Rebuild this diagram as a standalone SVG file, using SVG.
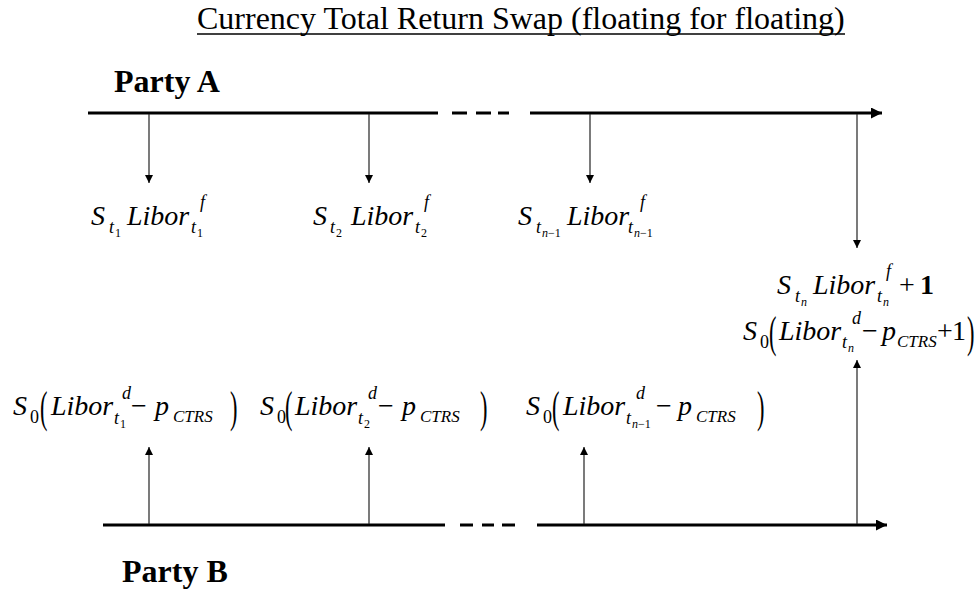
<svg xmlns="http://www.w3.org/2000/svg" width="978" height="594" viewBox="0 0 978 594">
<style>
text { font-family: "Liberation Serif", "Times New Roman", serif; fill: #000; }
.title { font-size: 32px; }
.party { font-size: 32px; font-weight: bold; }
.m { font-size: 28px; font-style: italic; }
.mu { font-size: 28px; font-style: normal; }
.s { font-size: 18px; font-style: italic; }
.su { font-size: 18px; font-style: normal; }
.c { font-size: 17px; font-style: italic; }
.ss { font-size: 12px; font-style: italic; }
.ssu { font-size: 12px; font-style: normal; }
.tl { stroke: #000; stroke-width: 3; fill: none; }
.ar { stroke: #222; stroke-width: 1.2; fill: none; }
</style>
<defs>
<marker id="ah" viewBox="0 0 10 10" refX="10" refY="5" markerWidth="9" markerHeight="8" markerUnits="userSpaceOnUse" orient="auto">
<path d="M0,0 L10,5 L0,10 z" fill="#000"/>
</marker>
<marker id="big" viewBox="0 0 10 10" refX="10" refY="5" markerWidth="13" markerHeight="11" markerUnits="userSpaceOnUse" orient="auto">
<path d="M0,0 L10,5 L0,10 z" fill="#000"/>
</marker>
</defs>

<g id="title">
<text class="title" x="197" y="29">Currency Total Return Swap (floating for floating)</text>
<line x1="197" y1="34" x2="845" y2="34" stroke="#000" stroke-width="1.5"/>
</g>

<g id="partyA"><text class="party" x="114" y="92">Party A</text></g>
<g id="partyB"><text class="party" x="122" y="582">Party B</text></g>

<g id="timelineA">
<line class="tl" x1="88" y1="113" x2="438" y2="113"/>
<line class="tl" x1="452" y1="113" x2="467" y2="113"/>
<line class="tl" x1="476" y1="113" x2="491" y2="113"/>
<line class="tl" x1="498" y1="113" x2="509" y2="113"/>
<line class="tl" x1="530" y1="113" x2="882" y2="113" marker-end="url(#big)"/>
</g>

<g id="timelineB">
<line class="tl" x1="103" y1="525" x2="445" y2="525"/>
<line class="tl" x1="460" y1="525" x2="473" y2="525"/>
<line class="tl" x1="482" y1="525" x2="494" y2="525"/>
<line class="tl" x1="502" y1="525" x2="515" y2="525"/>
<line class="tl" x1="537" y1="525" x2="887" y2="525" marker-end="url(#big)"/>
</g>

<g id="connectors">
<line class="ar" x1="149" y1="114" x2="149" y2="183" marker-end="url(#ah)"/>
<line class="ar" x1="369" y1="114" x2="369" y2="183" marker-end="url(#ah)"/>
<line class="ar" x1="590" y1="114" x2="590" y2="183" marker-end="url(#ah)"/>
<line class="ar" x1="857" y1="114" x2="857" y2="248" marker-end="url(#ah)"/>
<line class="ar" x1="149" y1="524" x2="149" y2="447" marker-end="url(#ah)"/>
<line class="ar" x1="369" y1="524" x2="369" y2="447" marker-end="url(#ah)"/>
<line class="ar" x1="584" y1="524" x2="584" y2="447" marker-end="url(#ah)"/>
<line class="ar" x1="857" y1="524" x2="857" y2="360" marker-end="url(#ah)"/>
</g>

<g id="payA1">
<text class="m" x="91" y="225">S</text>
<text class="s" x="109" y="233">t</text>
<text class="ssu" x="115" y="237">1</text>
<text class="m" x="127" y="225">Libor</text>
<text class="s" x="200" y="208">f</text>
<text class="s" x="191" y="233">t</text>
<text class="ssu" x="197" y="237">1</text>
</g>

<g id="payA2">
<text class="m" x="313" y="225">S</text>
<text class="s" x="330" y="233">t</text>
<text class="ssu" x="336" y="237">2</text>
<text class="m" x="351" y="225">Libor</text>
<text class="s" x="424" y="208">f</text>
<text class="s" x="415" y="233">t</text>
<text class="ssu" x="421" y="237">2</text>
</g>

<g id="payA3">
<text class="m" x="518" y="225">S</text>
<text class="s" x="536" y="233">t</text>
<text class="ss" x="542" y="237">n</text><text class="ssu" x="548" y="237">−1</text>
<text class="m" x="567" y="225">Libor</text>
<text class="s" x="640" y="208">f</text>
<text class="s" x="628" y="233">t</text>
<text class="ss" x="634" y="237">n</text><text class="ssu" x="640" y="237">−1</text>
</g>

<g id="payA4">
<text class="m" x="777" y="294">S</text>
<text class="s" x="795" y="302">t</text>
<text class="ss" x="801" y="306">n</text>
<text class="m" x="813" y="294">Libor</text>
<text class="s" x="886" y="277">f</text>
<text class="s" x="877" y="302">t</text>
<text class="ss" x="883" y="306">n</text>
<text class="mu" x="899" y="294">+</text>
<text class="mu" x="920" y="294" font-weight="bold">1</text>
</g>

<g id="payB4">
<text class="m" x="743" y="340">S</text>
<text class="su" x="760" y="348">0</text>
<text class="mu" transform="translate(769,347) scale(0.8,1.6)">(</text>
<text class="m" x="779" y="340">Libor</text>
<text class="s" x="852" y="324">d</text>
<text class="s" x="842" y="348">t</text>
<text class="ss" x="848" y="352">n</text>
<text class="mu" x="862" y="340">−</text>
<text class="m" x="882" y="340">p</text>
<text class="c" x="897" y="347">CTRS</text>
<text class="mu" x="937" y="340">+</text>
<text class="mu" x="952" y="340">1</text>
<text class="mu" transform="translate(967,347) scale(0.8,1.6)">)</text>
</g>

<g id="payB1">
<text class="m" x="13" y="415">S</text>
<text class="su" x="30" y="423">0</text>
<text class="mu" transform="translate(40,422) scale(0.8,1.6)">(</text>
<text class="m" x="51" y="415">Libor</text>
<text class="s" x="122" y="399">d</text>
<text class="s" x="114" y="424">t</text>
<text class="ssu" x="120" y="428">1</text>
<text class="mu" x="131" y="415">−</text>
<text class="m" x="155" y="415">p</text>
<text class="c" x="173" y="422">CTRS</text>
<text class="mu" transform="translate(230,422) scale(0.8,1.6)">)</text>
</g>

<g id="payB2">
<text class="m" x="260" y="415">S</text>
<text class="su" x="277" y="423">0</text>
<text class="mu" transform="translate(285,422) scale(0.8,1.6)">(</text>
<text class="m" x="295" y="415">Libor</text>
<text class="s" x="368" y="399">d</text>
<text class="s" x="358" y="424">t</text>
<text class="ssu" x="364" y="428">2</text>
<text class="mu" x="378" y="415">−</text>
<text class="m" x="402" y="415">p</text>
<text class="c" x="420" y="422">CTRS</text>
<text class="mu" transform="translate(480,422) scale(0.8,1.6)">)</text>
</g>

<g id="payB3">
<text class="m" x="526" y="415">S</text>
<text class="su" x="543" y="423">0</text>
<text class="mu" transform="translate(552,422) scale(0.8,1.6)">(</text>
<text class="m" x="563" y="415">Libor</text>
<text class="s" x="636" y="399">d</text>
<text class="s" x="626" y="424">t</text>
<text class="ss" x="632" y="428">n</text><text class="ssu" x="638" y="428">−1</text>
<text class="mu" x="656" y="415">−</text>
<text class="m" x="678" y="415">p</text>
<text class="c" x="696" y="422">CTRS</text>
<text class="mu" transform="translate(757,422) scale(0.8,1.6)">)</text>
</g>
</svg>
